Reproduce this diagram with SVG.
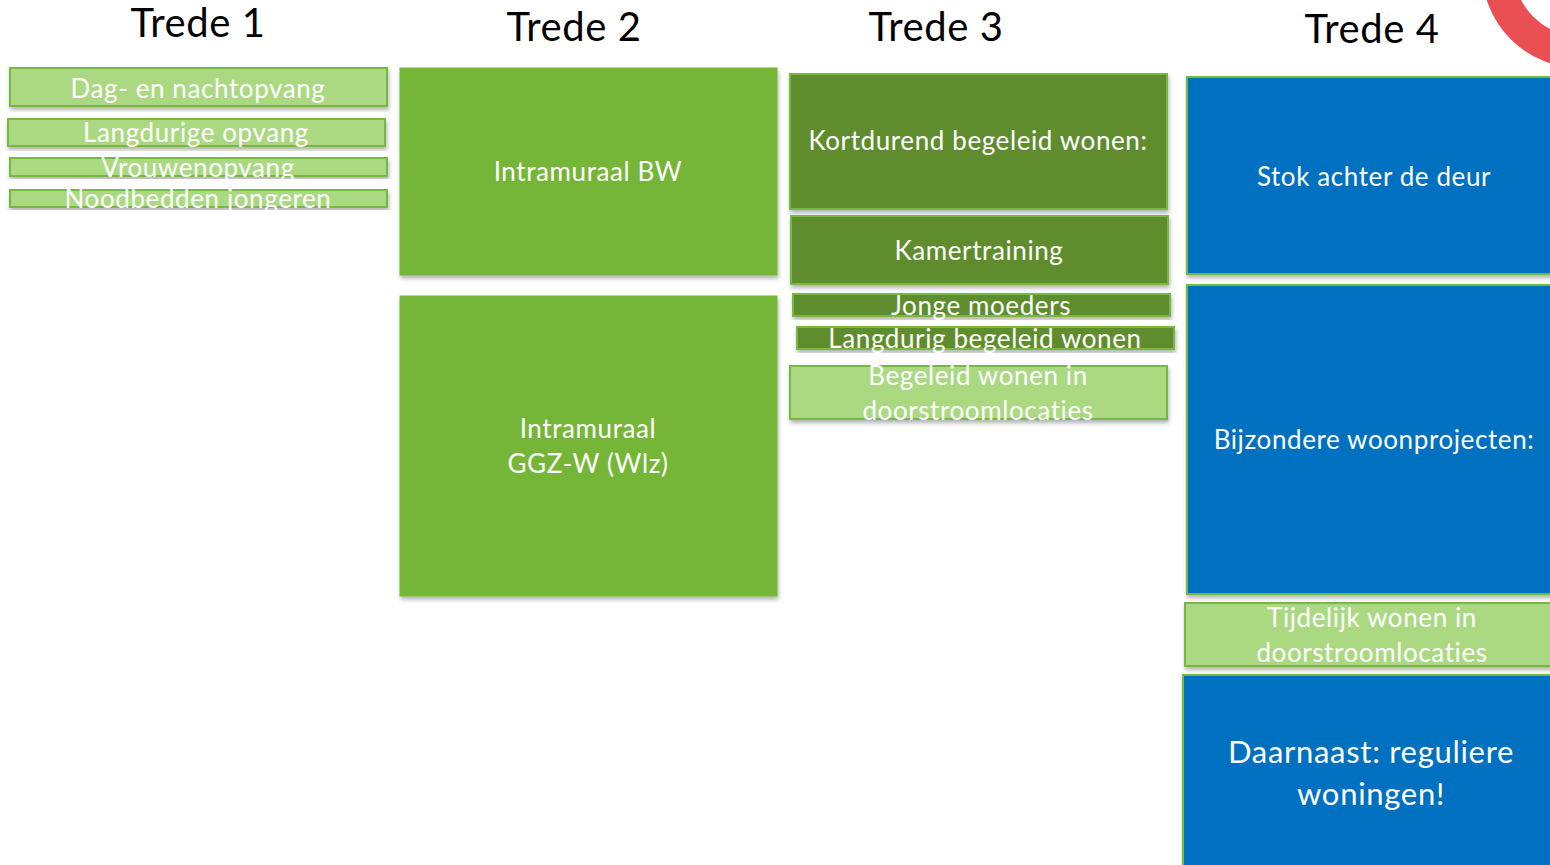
<svg xmlns="http://www.w3.org/2000/svg" width="1550" height="865" viewBox="0 0 1550 865">
<defs>
<filter id="sh" x="-5%" y="-5%" width="110%" height="120%">
<feDropShadow dx="1" dy="3" stdDeviation="2" flood-color="#000" flood-opacity="0.3"/>
</filter>
</defs>
<style>
.title{font-family:Lato,"Liberation Sans",sans-serif;font-size:40px;letter-spacing:0.6px;fill:#000;text-anchor:middle}
.t{font-family:Lato,"Liberation Sans",sans-serif;font-size:26px;letter-spacing:0.6px;fill:#fff;text-anchor:middle;dominant-baseline:central}
.big{font-size:31px;letter-spacing:0.7px}
.lg{fill:#ABD982;stroke:#77B843;stroke-width:2;filter:url(#sh)}
.mg{fill:#74B638;stroke:#74B638;stroke-width:1;filter:url(#sh)}
.dg{fill:#5E8D2E;stroke:#77B843;stroke-width:2;filter:url(#sh)}
.bl{fill:#0070C0;stroke:#77B843;stroke-width:2;filter:url(#sh)}
</style>
<rect width="1550" height="865" fill="#fff"/>
<circle cx="1580" cy="-30" r="82" fill="none" stroke="#EA4F54" stroke-width="32"/>
<g id="titles">
<text class="title" x="198" y="37">Trede 1</text>
<text class="title" x="574" y="41">Trede 2</text>
<text class="title" x="936" y="41">Trede 3</text>
<text class="title" x="1372" y="43">Trede 4</text>
</g>
<g id="n1"><rect class="lg" x="10" y="68" width="377" height="38"/><text class="t" x="198" y="88">Dag- en nachtopvang</text></g>
<g id="n2"><rect class="lg" x="8" y="119" width="377" height="27"/><text class="t" x="196" y="132">Langdurige opvang</text></g>
<g id="n3"><rect class="lg" x="10" y="158" width="377" height="18"/><text class="t" x="198" y="167">Vrouwenopvang</text></g>
<g id="n4"><rect class="lg" x="10" y="190" width="377" height="17"/><text class="t" x="198" y="198">Noodbedden jongeren</text></g>
<g id="n5"><rect class="mg" x="400" y="68" width="377" height="207"/><text class="t" x="588" y="171">Intramuraal BW</text></g>
<g id="n6"><rect class="mg" x="400" y="296" width="377" height="300"/><text class="t" x="588" y="428">Intramuraal</text><text class="t" x="588" y="463">GGZ-W (Wlz)</text></g>
<g id="n7"><rect class="dg" x="790" y="74" width="377" height="135"/><text class="t" x="978" y="140">Kortdurend begeleid wonen:</text></g>
<g id="n8"><rect class="dg" x="791" y="216" width="377" height="68"/><text class="t" x="979" y="250">Kamertraining</text></g>
<g id="n9"><rect class="dg" x="793" y="294" width="377" height="22"/><text class="t" x="981" y="305">Jonge moeders</text></g>
<g id="n10"><rect class="dg" x="797" y="327" width="377" height="22"/><text class="t" x="985" y="338">Langdurig begeleid wonen</text></g>
<g id="n11"><rect class="lg" x="790" y="366" width="377" height="53"/><text class="t" x="978" y="375">Begeleid wonen in</text><text class="t" x="978" y="410">doorstroomlocaties</text></g>
<g id="n12"><rect class="bl" x="1187" y="77" width="375" height="197"/><text class="t" x="1374" y="176">Stok achter de deur</text></g>
<g id="n13"><rect class="bl" x="1187" y="285" width="375" height="309"/><text class="t" x="1374" y="439">Bijzondere woonprojecten:</text></g>
<g id="n14"><rect class="lg" x="1185" y="603" width="377" height="63"/><text class="t" x="1372" y="617">Tijdelijk wonen in</text><text class="t" x="1372" y="652">doorstroomlocaties</text></g>
<g id="n15"><rect class="bl" x="1183" y="675" width="380" height="200"/><text class="t big" x="1371" y="751">Daarnaast: reguliere</text><text class="t big" x="1371" y="793">woningen!</text></g>
<g id="connectors"></g>
</svg>
